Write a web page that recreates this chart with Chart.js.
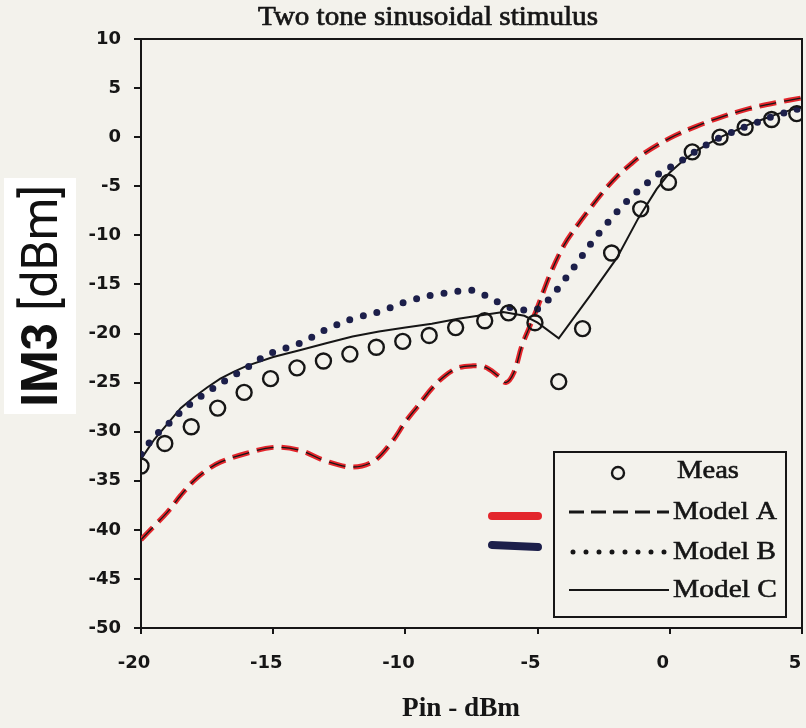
<!DOCTYPE html>
<html><head><meta charset="utf-8">
<script src="https://cdn.jsdelivr.net/npm/chart.js@4.4.1/dist/chart.umd.min.js"></script>
<style>html,body{margin:0;padding:0;background:#f3f2ec;}#wrap{width:806px;height:728px;}</style>
</head><body><div id="wrap"><canvas id="c" width="806" height="728"></canvas></div>
<script>
const chartTitle = 'Two tone sinusoidal stimulus';
const xTitle = 'Pin - dBm';
const yTitleBold = 'IM3';
const yTitleRest = ' [dBm]';
const seriesNames = ['Meas', 'Model A', 'Model B', 'Model C'];
const xTickValues = [-20, -15, -10, -5, 0, 5];
const yTickValues = [10, 5, 0, -5, -10, -15, -20, -25, -30, -35, -40, -45, -50];

const measX = [-20,-19.1,-18.1,-17.1,-16.1,-15.1,-14.1,-13.1,-12.1,-11.1,-10.1,-9.1,-8.1,-7.0,-6.1,-5.1,-4.2,-3.3,-2.2,-1.1,-0.05,0.85,1.9,2.85,3.85,4.8];
const measY = [-33.5,-31.2,-29.5,-27.6,-26.0,-24.6,-23.5,-22.8,-22.1,-21.4,-20.8,-20.2,-19.4,-18.7,-17.9,-18.9,-24.9,-19.5,-11.8,-7.3,-4.6,-1.5,0.0,1.0,1.8,2.4];

const modelAX = [-20,-19.5,-19,-18.5,-18,-17.5,-17,-16,-15,-14,-13,-12,-11.2,-10.5,-10,-9.5,-9,-8.5,-8,-7.5,-7,-6.5,-6.2,-5.9,-5.6,-5.3,-5,-4.5,-4,-3.5,-3,-2.5,-2,-1.5,-1,0,1,2,3,4,5];
const modelAY = [-41.0,-39.6,-38.2,-36.5,-35.0,-33.9,-33.1,-32.2,-31.6,-31.9,-33.0,-33.6,-33.0,-31.0,-29.0,-27.3,-25.6,-24.3,-23.5,-23.3,-23.4,-24.3,-25.0,-24.0,-21.3,-19.3,-17.3,-13.8,-11.0,-9.0,-7.2,-5.5,-4.0,-2.8,-1.7,-0.1,1.1,2.1,2.9,3.5,4.0];

const modelBX = [-20,-19.5,-19,-18.5,-18,-17.5,-17,-16.5,-16,-15.5,-15,-14,-13,-12,-11,-10,-9,-8,-7.5,-7,-6.5,-6,-5.5,-5,-4.5,-4,-3.5,-3,-2.5,-2,-1.5,-1,-0.5,0,0.5,1,1.5,2,3,4,5];
const modelBY = [-32.3,-30.5,-29.3,-28.0,-26.9,-26.0,-25.1,-24.3,-23.5,-22.6,-21.9,-21.0,-19.6,-18.5,-17.8,-16.8,-16.1,-15.7,-15.6,-16.1,-16.8,-17.4,-17.6,-17.5,-16.3,-14.6,-12.8,-10.9,-9.2,-7.6,-6.2,-5.0,-3.9,-3.1,-2.3,-1.4,-0.6,0.1,1.2,2.2,3.0];

const modelCX = [-20,-19.5,-19,-18.5,-18,-17.5,-17,-16.5,-16,-15,-14,-13,-12,-11,-10,-9,-8,-7,-6.3,-5.5,-5,-4.2,-3,-2,-1.2,-0.5,0,0.5,1,1.5,2,2.5,3,3.5,4,4.5,5];
const modelCY = [-32.8,-30.8,-29.2,-27.6,-26.5,-25.5,-24.6,-23.9,-23.3,-22.4,-21.7,-21.0,-20.3,-19.8,-19.4,-19.0,-18.5,-18.1,-17.8,-18.2,-18.9,-20.5,-16.1,-12.3,-8.3,-5.3,-3.6,-2.4,-1.4,-0.6,0.1,0.7,1.3,1.8,2.3,2.7,3.1];

const toPts = (xs, ys) => xs.map((x, i) => ({x: x, y: ys[i]}));

const INK = '#161616';
const RED = '#e3262c';
const NAVY = '#1c1f4a';
const SERIF = '"Liberation Serif", "DejaVu Serif", serif';

function fitText(ctx, text, x, y, targetW, align, heavy) {
  const w = ctx.measureText(text).width;
  const s = targetW / w;
  ctx.save();
  ctx.translate(x, y);
  ctx.scale(s, 1);
  ctx.textAlign = align || 'center';
  ctx.fillText(text, 0, 0);
  if (heavy) { ctx.lineWidth = heavy; ctx.strokeStyle = ctx.fillStyle; ctx.setLineDash([]); ctx.strokeText(text, 0, 0); }
  ctx.restore();
}

const paperPlugin = {
  id: 'paper',
  beforeDraw(chart) {
    const ctx = chart.ctx;
    ctx.save();
    ctx.fillStyle = '#f3f2ec';
    ctx.fillRect(0, 0, chart.width, chart.height);
    ctx.restore();
  },
  afterDatasetsDraw(chart) {
    const ctx = chart.ctx, a = chart.chartArea;
    ctx.save();
    ctx.strokeStyle = INK;
    ctx.lineWidth = 2;
    ctx.beginPath();
    ctx.moveTo(a.left, a.top); ctx.lineTo(a.right, a.top); ctx.lineTo(a.right, a.bottom);
    ctx.stroke();
    ctx.restore();
  },
  afterDraw(chart) {
    const ctx = chart.ctx, a = chart.chartArea;
    ctx.save();
    ctx.fillStyle = INK;
    ctx.textBaseline = 'alphabetic';
    // chart title
    ctx.font = '27px ' + SERIF;
    fitText(ctx, chartTitle, 428, 25, 340, 'center', 0.7);
    // x axis title
    ctx.font = 'bold 27px ' + SERIF;
    fitText(ctx, xTitle, 461, 716, 118, 'center', 0);

    // Legend box
    const bx = a.right - 248, by = a.bottom - 176, bw = 232, bh = 165;
    ctx.fillStyle = '#f3f2ec';
    ctx.fillRect(bx, by, bw, bh);
    ctx.strokeStyle = INK; ctx.lineWidth = 2;
    ctx.strokeRect(bx, by, bw, bh);
    const rows = [by + 19, by + 60, by + 100, by + 138];
    const sx0 = bx + 15, sx1 = bx + 115, tx = bx + 119;
    ctx.font = '26px ' + SERIF;
    ctx.fillStyle = INK; ctx.textBaseline = 'middle'; ctx.textAlign = 'left';
    // Meas
    ctx.beginPath(); ctx.lineWidth = 2.4; ctx.arc(bx + 64, rows[0] + 2, 6, 0, Math.PI * 2); ctx.stroke();
    fitText(ctx, seriesNames[0], tx + 4, rows[0], 62, 'left', 0.6);
    // Model A
    ctx.beginPath(); ctx.lineWidth = 3; ctx.setLineDash([15, 7]); ctx.moveTo(sx0, rows[1]); ctx.lineTo(sx1, rows[1]); ctx.stroke();
    ctx.setLineDash([]);
    fitText(ctx, seriesNames[1], tx, rows[1], 104, 'left', 0.6);
    // Model B
    ctx.beginPath(); ctx.lineWidth = 5; ctx.lineCap = 'round'; ctx.setLineDash([0, 13]); ctx.moveTo(sx0 + 4, rows[2]); ctx.lineTo(sx1, rows[2]); ctx.stroke();
    ctx.setLineDash([]); ctx.lineCap = 'butt';
    fitText(ctx, seriesNames[2], tx, rows[2], 103, 'left', 0.6);
    // Model C
    ctx.beginPath(); ctx.lineWidth = 2.2; ctx.moveTo(sx0, rows[3]); ctx.lineTo(sx1, rows[3]); ctx.stroke();
    fitText(ctx, seriesNames[3], tx, rows[3], 104, 'left', 0.6);
    // highlighter marks beside legend
    ctx.lineCap = 'round'; ctx.lineWidth = 8;
    ctx.strokeStyle = RED; ctx.beginPath(); ctx.moveTo(bx - 62, rows[1] + 4); ctx.lineTo(bx - 16, rows[1] + 4); ctx.stroke();
    ctx.strokeStyle = NAVY; ctx.beginPath(); ctx.moveTo(bx - 62, rows[2] - 7); ctx.lineTo(bx - 16, rows[2] - 5); ctx.stroke();

    // Y axis title with white patch
    ctx.fillStyle = '#ffffff';
    ctx.fillRect(4, 178, 72, 236);
    ctx.translate(44, 296);
    ctx.rotate(-Math.PI / 2);
    ctx.fillStyle = '#111111';
    ctx.textBaseline = 'middle';
    ctx.textAlign = 'left';
    const fb = 'bold 50px Roboto', fn = '50px Roboto';
    ctx.font = fb; const wb = ctx.measureText(yTitleBold).width;
    ctx.font = fn; const wn = ctx.measureText(yTitleRest).width;
    const s = 222 / (wb + wn);
    ctx.scale(s, 1);
    const start = -(wb + wn) / 2;
    ctx.font = fb; ctx.fillText(yTitleBold, start, 0);
    ctx.font = fn; ctx.fillText(yTitleRest, start + wb, 0);
    ctx.restore();
  }
};

const tickFont = {family: '"DejaVu Sans"', size: 18, weight: 'bold'};

new Chart(document.getElementById('c'), {
  type: 'scatter',
  data: {
    datasets: [
      {label: seriesNames[0], data: toPts(measX, measY), showLine: false, pointStyle: 'circle', pointRadius: 7.5,
       pointBorderWidth: 2.4, pointBorderColor: INK, pointBackgroundColor: 'rgba(0,0,0,0)', order: 1},
      {label: seriesNames[1], data: toPts(modelAX, modelAY), showLine: true, pointRadius: 0, borderColor: INK,
       borderWidth: 1.3, borderDash: [17, 8], tension: 0.35, order: 2},
      {label: seriesNames[1] + ' (marker)', data: toPts(modelAX, modelAY), showLine: true, pointRadius: 0, borderColor: RED,
       borderWidth: 5, borderDash: [17, 8], tension: 0.35, order: 5},
      {label: seriesNames[2], data: toPts(modelBX, modelBY), showLine: true, pointRadius: 0, borderColor: NAVY,
       borderWidth: 7, borderDash: [0, 14], borderCapStyle: 'round', tension: 0.35, order: 3},
      {label: seriesNames[3], data: toPts(modelCX, modelCY), showLine: true, pointRadius: 0, borderColor: INK,
       borderWidth: 2, tension: 0, order: 4}
    ]
  },
  options: {
    responsive: false,
    animation: false,
    devicePixelRatio: 1,
    layout: {autoPadding: false, padding: {left: 0, right: 4, top: 39, bottom: 0}},
    plugins: {
      legend: {display: false},
      tooltip: {enabled: false},
      title: {display: false}
    },
    scales: {
      x: {
        type: 'linear', min: -20, max: 5,
        afterBuildTicks: (sc) => { sc.ticks = xTickValues.map(v => ({value: v})); },
        afterFit: (sc) => { sc.height = 100; sc.paddingLeft = 0; sc.paddingRight = 0; },
        ticks: {color: INK, font: tickFont, padding: 19, maxRotation: 0, labelOffset: -7},
        grid: {display: true, drawOnChartArea: false, color: INK, tickLength: 6, lineWidth: 2},
        border: {display: true, color: INK, width: 2}
      },
      y: {
        type: 'linear', min: -50, max: 10,
        afterBuildTicks: (sc) => { sc.ticks = yTickValues.map(v => ({value: v})); },
        afterFit: (sc) => { sc.width = 141; sc.paddingTop = 0; sc.paddingBottom = 0; },
        ticks: {color: INK, font: tickFont, padding: 13},
        grid: {display: true, drawOnChartArea: false, color: INK, tickLength: 7, lineWidth: 2},
        border: {display: true, color: INK, width: 2}
      }
    }
  },
  plugins: [paperPlugin]
});
</script></body></html>
